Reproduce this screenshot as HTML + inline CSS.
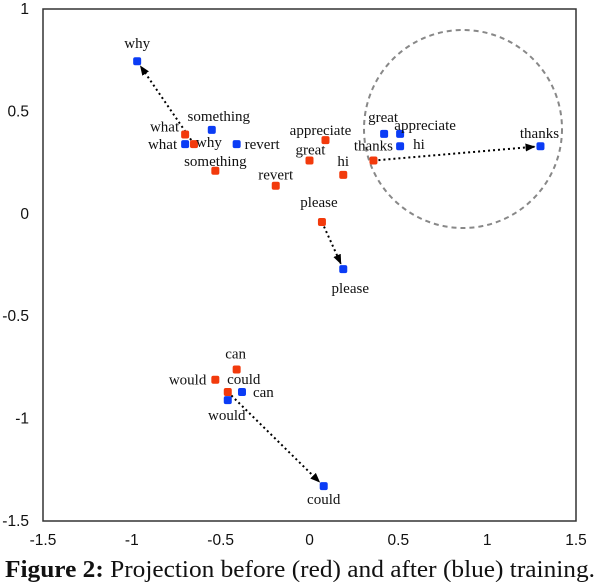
<!DOCTYPE html>
<html><head><meta charset="utf-8"><style>
body{margin:0;background:#fff;}
svg{display:block}
.lbl{font-family:"Liberation Serif",serif;font-size:15px;fill:#111}
.tick{font-family:"Liberation Sans",sans-serif;font-size:15.5px;fill:#111}
</style></head><body>
<svg id="chart" width="600" height="582">
<rect x="43" y="9" width="533" height="512" fill="none" stroke="#333" stroke-width="1.5"/>
<circle cx="463" cy="129" r="99" fill="none" stroke="#888" stroke-width="2" stroke-dasharray="5,4"/>
<g id="ticks"></g><g id="arrows"></g><g id="pts"></g><g id="labels"></g>
<text x="300" y="577" text-anchor="middle" textLength="590" lengthAdjust="spacingAndGlyphs" style="font-family:'Liberation Serif',serif;font-size:24px;fill:#111"><tspan font-weight="bold">Figure 2:</tspan> Projection before (red) and after (blue) training.</text>
</svg>
<script>
const xTicks=[-1.5,-1,-0.5,0,0.5,1,1.5];
const yTicks=[1,0.5,0,-0.5,-1,-1.5];
const redWords=["what","why","something","revert","appreciate","great","hi","thanks","please","can","would","could"];
const redX=[-0.70,-0.65,-0.53,-0.19,0.09,0.00,0.19,0.36,0.07,-0.41,-0.53,-0.46];
const redY=[0.387,0.34,0.21,0.137,0.36,0.26,0.19,0.26,-0.04,-0.76,-0.81,-0.87];
const blueWords=["why","something","what","revert","great","appreciate","hi","thanks","please","can","would","could"];
const blueX=[-0.97,-0.55,-0.70,-0.41,0.42,0.51,0.51,1.30,0.19,-0.38,-0.46,0.08];
const blueY=[0.745,0.41,0.34,0.34,0.39,0.39,0.33,0.33,-0.27,-0.87,-0.91,-1.33];
const arrowWords=["why","thanks","please","could"];
const L=43,R=576,T=9,B=521;
const sx=v=>L+(v+1.5)/3*(R-L);
const sy=v=>T+(1-v)/2.5*(B-T);
const NS="http://www.w3.org/2000/svg";
function mk(tag,attrs,parent){const e=document.createElementNS(NS,tag);for(const k in attrs)e.setAttribute(k,attrs[k]);document.getElementById(parent).appendChild(e);return e;}
xTicks.forEach(v=>{const t=mk("text",{x:sx(v),y:545,"text-anchor":"middle",class:"tick"},"ticks");t.textContent=v;

});
yTicks.forEach(v=>{const t=mk("text",{x:29,y:sy(v)+5,"text-anchor":"end",class:"tick"},"ticks");t.textContent=v;

});
const defs=document.createElementNS(NS,"defs");defs.innerHTML='<marker id="ah" markerWidth="10" markerHeight="8" refX="9" refY="4" orient="auto" markerUnits="userSpaceOnUse"><path d="M0,0 L10,4 L0,8 z" fill="#000"/></marker>';
document.getElementById("chart").prepend(defs);
arrowWords.forEach(w=>{const i=redWords.indexOf(w),j=blueWords.indexOf(w);
const x1=sx(redX[i]),y1=sy(redY[i]),x2=sx(blueX[j]),y2=sy(blueY[j]);
const d=Math.hypot(x2-x1,y2-y1),ux=(x2-x1)/d,uy=(y2-y1)/d;
const a=mk("line",{x1:x1,y1:y1,x2:x2-ux*6,y2:y2-uy*6,stroke:"#000","stroke-width":2,"stroke-dasharray":"2,3","marker-end":"url(#ah)"},"arrows");

});
redWords.forEach((w,i)=>{const p=mk("rect",{x:sx(redX[i])-4,y:sy(redY[i])-4,width:8,height:8,rx:2,fill:"#f23a0c"},"pts");

});
blueWords.forEach((w,i)=>{const p=mk("rect",{x:sx(blueX[i])-4,y:sy(blueY[i])-4,width:8,height:8,rx:2,fill:"#0b3cf5"},"pts");

});
const redLab={what:[-6,-3,"end"],why:[2,3,"start"],something:[0,-5,"middle"],revert:[0,-6,"middle"],appreciate:[-5,-5,"middle"],great:[1,-6,"middle"],hi:[0,-9,"middle"],thanks:[0,-10,"middle"],please:[-3,-15,"middle"],can:[-1,-11,"middle"],would:[-9,5,"end"],could:[16,-8,"middle"]};
const blueLab={why:[0,-13,"middle"],something:[7,-9,"middle"],what:[-8,5,"end"],revert:[8,5,"start"],great:[-1,-12,"middle"],appreciate:[25,-4,"middle"],hi:[13,3,"start"],thanks:[-1,-8,"middle"],please:[7,24,"middle"],can:[11,5,"start"],would:[-1,20,"middle"],could:[0,18,"middle"]};
redWords.forEach((w,i)=>{const o=redLab[w];const t=mk("text",{x:sx(redX[i])+o[0],y:sy(redY[i])+o[1],"text-anchor":o[2],class:"lbl"},"labels");t.textContent=w;

});
blueWords.forEach((w,i)=>{const o=blueLab[w];const t=mk("text",{x:sx(blueX[i])+o[0],y:sy(blueY[i])+o[1],"text-anchor":o[2],class:"lbl"},"labels");t.textContent=w;

});
</script>
</body></html>
